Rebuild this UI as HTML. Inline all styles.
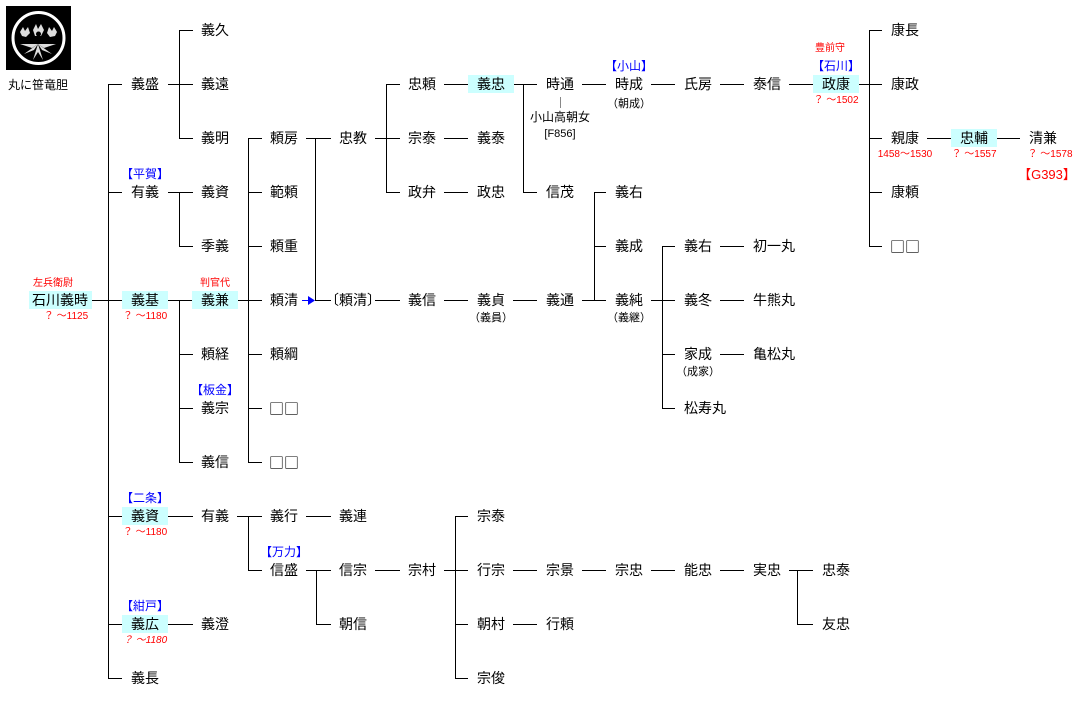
<!DOCTYPE html>
<html><head><meta charset="utf-8"><style>
html,body{margin:0;padding:0;background:#fff;}
svg{display:block;}
text{font-family:"Liberation Sans","Noto Sans CJK JP",sans-serif;}
.n{font-size:14px;fill:#000;text-anchor:middle;}
.sq{font-family:"Noto Sans CJK JP","WenQuanYi Zen Hei",sans-serif;font-size:15px;fill:#000;text-anchor:middle;}
.s{font-size:12px;fill:#000;text-anchor:middle;}
.r{font-size:10px;fill:#f00;text-anchor:middle;}
.rl{font-size:11px;fill:#f00;text-anchor:middle;}
.b{font-size:12px;fill:#00f;text-anchor:middle;}
</style></head><body>
<svg width="1080" height="720" xmlns="http://www.w3.org/2000/svg">
<rect width="1080" height="720" fill="#fff"/>
<!-- crest -->
<rect x="6" y="6" width="65" height="64" fill="#000"/>
<circle cx="38.5" cy="38" r="25.5" fill="none" stroke="#fff" stroke-width="3"/>
<g fill="#ddd">
<path d="M38 44 L33 60 L38 52 L43 60 Z"/>
<path d="M38 44 L24 54 L34 50 Z"/>
<path d="M38 44 L52 54 L42 50 Z"/>
<path d="M38 44 L20 44 L32 48 Z"/>
<path d="M38 44 L56 44 L44 48 Z"/>
<path d="M33 30 L36 24 L38 29 L41 24 L44 30 L41 36 L35 36 Z"/>
<path d="M20 32 L23 27 L25 31 L28 27 L30 33 L26 37 L22 36 Z"/>
<path d="M47 33 L49 27 L52 31 L54 27 L57 32 L55 36 L50 37 Z"/>
</g>
<circle cx="38.5" cy="34" r="2.5" fill="#000"/>
<text x="38" y="89" class="s">丸に笹竜胆</text>

<!-- highlight boxes -->
<g fill="#ccffff">
<rect x="29" y="291" width="63" height="18"/>
<rect x="122" y="291" width="46" height="18"/>
<rect x="192" y="291" width="46" height="18"/>
<rect x="122" y="507" width="46" height="18"/>
<rect x="122" y="615" width="46" height="18"/>
<rect x="468" y="75" width="46" height="18"/>
<rect x="813" y="75" width="46" height="18"/>
<rect x="951" y="129" width="46" height="18"/>
</g>

<!-- lines -->
<g stroke="#000" stroke-width="1" fill="none" shape-rendering="crispEdges">
<path d="M108.5 84V678 M179.5 30V138 M179.5 192V246 M179.5 300V462 M248.5 138V462 M248.5 516V570 M315.5 138V300 M316.5 570V624 M386.5 84V192 M455.5 516V678 M523.5 84V192 M594.5 192V300 M662.5 246V408 M797.5 570V624 M869.5 30V246"/>
<path d="M92 300.5H122 M108 84.5H122 M108 192.5H122 M108 516.5H122 M108 624.5H122 M108 678.5H122"/>
<path d="M168 84.5H193 M179 30.5H193 M179 138.5H193 M168 192.5H193 M179 246.5H193 M168 300.5H192 M179 354.5H193 M179 408.5H193 M179 462.5H193 M168 516.5H193 M168 624.5H193"/>
<path d="M238 300.5H262 M248 138.5H262 M248 192.5H262 M248 246.5H262 M248 354.5H262 M248 408.5H262 M248 462.5H262 M237 516.5H262 M248 570.5H262"/>
<path d="M306 138.5H331 M315 300.5H331 M306 516.5H331 M306 570.5H331 M316 624.5H331"/>
<path d="M375 138.5H386 M386 84.5H400 M386 138.5H400 M386 192.5H400 M375 300.5H400 M375 570.5H400"/>
<path d="M444 84.5H468 M444 138.5H468 M444 192.5H468 M444 300.5H468 M444 570.5H468 M455 516.5H468 M455 624.5H468 M455 678.5H468"/>
<path d="M514 84.5H537 M523 192.5H537 M513 300.5H537 M513 570.5H537 M513 624.5H537"/>
<path d="M582 84.5H606 M582 300.5H606 M594 192.5H606 M594 246.5H606 M582 570.5H606"/>
<path d="M651 84.5H675 M651 300.5H675 M662 246.5H675 M662 354.5H675 M662 408.5H675 M651 570.5H675"/>
<path d="M720 84.5H744 M720 246.5H744 M720 300.5H744 M720 354.5H744 M720 570.5H744"/>
<path d="M789 84.5H813 M789 570.5H813 M797 624.5H813"/>
<path d="M859 84.5H882 M869 30.5H882 M869 138.5H882 M869 192.5H882 M869 246.5H882"/>
<path d="M927 138.5H951 M997 138.5H1020"/>
</g>
<path d="M560.5 97V108" stroke="#888" stroke-width="1" shape-rendering="crispEdges"/>
<path d="M302 300.5H309" stroke="#00f" stroke-width="1" shape-rendering="crispEdges"/>
<path d="M308 296 L315 300.5 L308 305 Z" fill="#00f"/>

<!-- text -->
<g class="n">
<text x="60" y="305" class="n">石川義時</text>
<text x="145" y="89" class="n">義盛</text>
<text x="145" y="197" class="n">有義</text>
<text x="145" y="305" class="n">義基</text>
<text x="145" y="521" class="n">義資</text>
<text x="145" y="629" class="n">義広</text>
<text x="145" y="683" class="n">義長</text>

<text x="215" y="35" class="n">義久</text>
<text x="215" y="89" class="n">義遠</text>
<text x="215" y="143" class="n">義明</text>
<text x="215" y="197" class="n">義資</text>
<text x="215" y="251" class="n">季義</text>
<text x="215" y="305" class="n">義兼</text>
<text x="215" y="359" class="n">頼経</text>
<text x="215" y="413" class="n">義宗</text>
<text x="215" y="467" class="n">義信</text>
<text x="215" y="521" class="n">有義</text>
<text x="215" y="629" class="n">義澄</text>

<text x="284" y="143" class="n">頼房</text>
<text x="284" y="197" class="n">範頼</text>
<text x="284" y="251" class="n">頼重</text>
<text x="284" y="305" class="n">頼清</text>
<text x="284" y="359" class="n">頼綱</text>
<text x="284" y="414" class="sq">□□</text>
<text x="284" y="468" class="sq">□□</text>
<text x="284" y="521" class="n">義行</text>
<text x="284" y="575" class="n">信盛</text>

<text x="353" y="143" class="n">忠教</text>
<text x="353" y="305" class="n">〔頼清〕</text>
<text x="353" y="521" class="n">義連</text>
<text x="353" y="575" class="n">信宗</text>
<text x="353" y="629" class="n">朝信</text>

<text x="422" y="89" class="n">忠頼</text>
<text x="422" y="143" class="n">宗泰</text>
<text x="422" y="197" class="n">政弁</text>
<text x="422" y="305" class="n">義信</text>
<text x="422" y="575" class="n">宗村</text>

<text x="491" y="89" class="n">義忠</text>
<text x="491" y="143" class="n">義泰</text>
<text x="491" y="197" class="n">政忠</text>
<text x="491" y="305" class="n">義貞</text>
<text x="491" y="521" class="n">宗泰</text>
<text x="491" y="575" class="n">行宗</text>
<text x="491" y="629" class="n">朝村</text>
<text x="491" y="683" class="n">宗俊</text>

<text x="560" y="89" class="n">時通</text>
<text x="560" y="197" class="n">信茂</text>
<text x="560" y="305" class="n">義通</text>
<text x="560" y="575" class="n">宗景</text>
<text x="560" y="629" class="n">行頼</text>

<text x="629" y="89" class="n">時成</text>
<text x="629" y="197" class="n">義右</text>
<text x="629" y="251" class="n">義成</text>
<text x="629" y="305" class="n">義純</text>
<text x="629" y="575" class="n">宗忠</text>

<text x="698" y="89" class="n">氏房</text>
<text x="698" y="251" class="n">義右</text>
<text x="698" y="305" class="n">義冬</text>
<text x="698" y="359" class="n">家成</text>
<text x="705" y="413" class="n">松寿丸</text>
<text x="698" y="575" class="n">能忠</text>

<text x="767" y="89" class="n">泰信</text>
<text x="774" y="251" class="n">初一丸</text>
<text x="774" y="305" class="n">牛熊丸</text>
<text x="774" y="359" class="n">亀松丸</text>
<text x="767" y="575" class="n">実忠</text>

<text x="836" y="89" class="n">政康</text>
<text x="836" y="575" class="n">忠泰</text>
<text x="836" y="629" class="n">友忠</text>

<text x="905" y="35" class="n">康長</text>
<text x="905" y="89" class="n">康政</text>
<text x="905" y="143" class="n">親康</text>
<text x="905" y="197" class="n">康頼</text>
<text x="905" y="252" class="sq">□□</text>

<text x="974" y="143" class="n">忠輔</text>
<text x="1043" y="143" class="n">清兼</text>
</g>

<text x="560" y="121" class="s">小山高朝女</text>
<text x="560" y="137" class="s" style="font-size:11px">[F856]</text>
<text x="629" y="107" class="s" style="font-size:11px">（朝成）</text>
<text x="491" y="321" class="s" style="font-size:11px">（義員）</text>
<text x="629" y="321" class="s" style="font-size:11px">（義継）</text>
<text x="698" y="375" class="s" style="font-size:11px">（成家）</text>

<text x="145" y="178" class="b">【平賀】</text>
<text x="215" y="394" class="b">【板金】</text>
<text x="145" y="502" class="b">【二条】</text>
<text x="284" y="556" class="b">【万力】</text>
<text x="145" y="610" class="b">【紺戸】</text>
<text x="629" y="70" class="b">【小山】</text>
<text x="836" y="70" class="b">【石川】</text>

<text x="53" y="286" class="r">左兵衛尉</text>
<text x="215" y="286" class="r">判官代</text>
<text x="830" y="51" class="r">豊前守</text>
<text x="66" y="319" class="r">？ ～1125</text>
<text x="145" y="319" class="r">？ ～1180</text>
<text x="145" y="535" class="r">？ ～1180</text>
<text x="145" y="643" class="r" font-style="italic">？ ～1180</text>
<text x="836" y="103" class="r">？ ～1502</text>
<text x="905" y="157" class="r">1458～1530</text>
<text x="974" y="157" class="r">？ ～1557</text>
<text x="1050" y="157" class="r">？ ～1578</text>
<text x="1047" y="179" class="rl" style="font-size:13px">【G393】</text>
</svg>
</body></html>
